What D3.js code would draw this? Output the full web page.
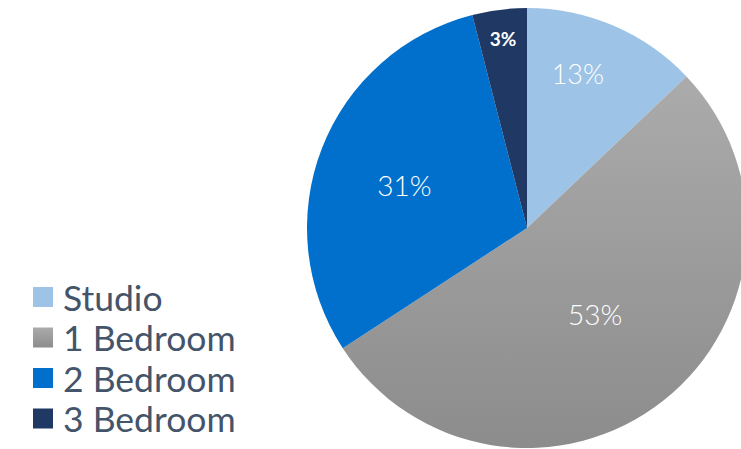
<!DOCTYPE html>
<html>
<head>
<meta charset="utf-8">
<script src="https://cdn.jsdelivr.net/npm/d3@7"></script>
<style>
  body { margin: 0; background: #fff; }
  #chart { width: 741px; height: 449px; overflow: hidden; }
</style>
</head>
<body>
<div id="chart"></div>
<script>
// Unit mix shares (slice angles) and shown labels
const categories = ['Studio', '1 Bedroom', '2 Bedroom', '3 Bedroom'];
const shares = [12.9, 52.9, 30.2, 4.0];
const shareLabels = ['13%', '53%', '31%', '3%'];

function createPieChart(containerId = 'chart') {
    const width = 741, height = 449;
    const cx = 527, cy = 228, radius = 220;

    const colors = ['#9DC3E6', 'url(#grayGrad)', '#0070CC', '#1F3864'];
    // label placement per slice: radius fraction and angle nudge (deg)
    const labelStyle = [
        { r: 0.74, nudge: -5, size: 27, weight: 300 },
        { r: 0.50, nudge: 0, size: 28, weight: 300 },
        { r: 0.59, nudge: -2, size: 28, weight: 300 },
        { r: 0.87, nudge: 0, size: 19, weight: 700 }
    ];

    const svg = d3.select(`#${containerId}`)
        .append('svg')
        .attr('width', width)
        .attr('height', height);

    // Gradient for the gray slice
    const defs = svg.append('defs');
    const grad = defs.append('linearGradient')
        .attr('id', 'grayGrad')
        .attr('x1', 0).attr('y1', 0)
        .attr('x2', 0).attr('y2', 1);
    grad.append('stop').attr('offset', '0%').attr('stop-color', '#ababab');
    grad.append('stop').attr('offset', '100%').attr('stop-color', '#8c8c8c');

    const data = categories.map((c, i) => ({ name: c, value: shares[i], label: shareLabels[i], i }));

    const pie = d3.pie()
        .value(d => d.value)
        .sort(null);

    const arc = d3.arc()
        .innerRadius(0)
        .outerRadius(radius);

    const g = svg.append('g')
        .attr('transform', `translate(${cx},${cy})`);

    const arcs = pie(data);

    g.selectAll('path')
        .data(arcs)
        .enter()
        .append('path')
        .attr('d', arc)
        .attr('fill', d => colors[d.data.i]);

    // Data labels
    g.selectAll('.lbl')
        .data(arcs)
        .enter()
        .append('text')
        .attr('class', 'lbl')
        .each(function(d) {
            const s = labelStyle[d.data.i];
            const a = (d.startAngle + d.endAngle) / 2 + s.nudge * Math.PI / 180;
            d3.select(this)
                .attr('x', Math.sin(a) * radius * s.r)
                .attr('y', -Math.cos(a) * radius * s.r);
        })
        .attr('text-anchor', 'middle')
        .attr('dominant-baseline', 'central')
        .style('font-family', 'Lato, "Open Sans", sans-serif')
        .style('font-size', d => labelStyle[d.data.i].size + 'px')
        .style('font-weight', d => labelStyle[d.data.i].weight)
        .style('fill', '#ffffff')
        .text(d => d.data.label);

    // Legend
    const legend = svg.append('g')
        .attr('transform', 'translate(33,297)');

    const rowH = 40.5;
    const item = legend.selectAll('.item')
        .data(data)
        .enter()
        .append('g')
        .attr('class', 'item')
        .attr('transform', (d, i) => `translate(0,${i * rowH})`);

    item.append('rect')
        .attr('x', 0)
        .attr('y', -10)
        .attr('width', 20)
        .attr('height', 20)
        .attr('fill', d => colors[d.i]);

    item.append('text')
        .attr('x', 30)
        .attr('y', 0)
        .attr('dominant-baseline', 'central')
        .style('font-family', 'Lato, "Open Sans", sans-serif')
        .style('font-size', '35.5px')
        .style('fill', '#44546A')
        .text(d => d.name);
}

createPieChart('chart');
</script>
</body>
</html>
